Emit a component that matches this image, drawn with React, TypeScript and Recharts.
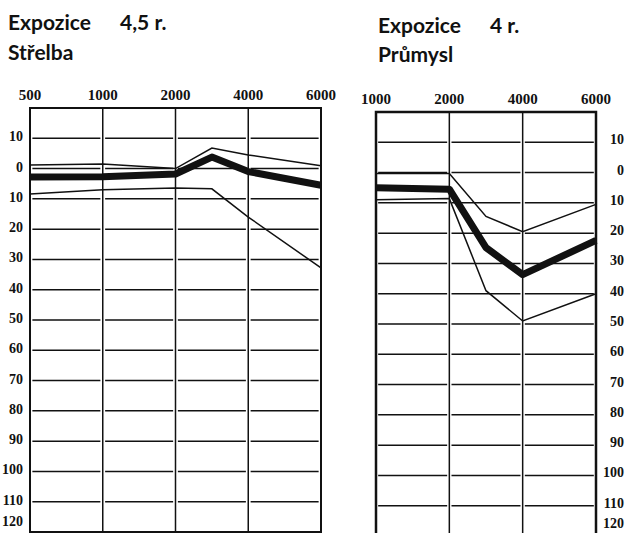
import React from 'react';
import { LineChart, Line, XAxis, YAxis, CartesianGrid, ReferenceArea } from 'recharts';

// frequency ticks printed on top of each audiogram (equally spaced columns)
const leftTicks = [500, 1000, 2000, 4000, 6000];
const rightTicks = [1000, 2000, 4000, 6000];

// hearing level ticks, dB (top of the grid = -20)
const dbTicks = [-20, -10, 0, 10, 20, 30, 40, 50, 60, 70, 80, 90, 100, 110, 120];

// Střelba, 4,5 r.
const leftFreqs = [500, 1000, 2000, 3000, 4000, 6000];
const leftUpper = [-1.2, -1.5, 0, -6.8, -4.5, -0.9];
const leftMean = [2.8, 2.7, 1.8, -3.8, 1, 5.5];
const leftLower = [8.4, 7, 6.4, 6.7, 16, 32.8];

// Průmysl, 4 r.
const rightFreqs = [1000, 2000, 3000, 4000, 6000];
const rightUpper = [0.3, 0.3, 14.5, 19.5, 10.5];
const rightMean = [5, 5.5, 24.8, 33.7, 22.4];
const rightLower = [9, 8.6, 39, 49, 40];

const INK = '#111';

// position of a frequency between the printed (equally spaced) columns
const freqPos = (ticks: number[], f: number) => {
  for (let i = 0; i < ticks.length - 1; i++) {
    if (f >= ticks[i] && f <= ticks[i + 1]) {
      return i + (f - ticks[i]) / (ticks[i + 1] - ticks[i]);
    }
  }
  return ticks.length - 1;
};

const buildData = (ticks: number[], freqs: number[], upper: number[], mean: number[], lower: number[]) =>
  freqs.map((f, i) => ({ pos: freqPos(ticks, f), upper: upper[i], mean: mean[i], lower: lower[i] }));

const leftData = buildData(leftTicks, leftFreqs, leftUpper, leftMean, leftLower);
const rightData = buildData(rightTicks, rightFreqs, rightUpper, rightMean, rightLower);

const tickFont = { fontFamily: '"Liberation Serif", serif', fontWeight: 700 };

const LeftDbTick = (props: any) => {
  const { x, y, payload } = props;
  if (payload.value === -20) return null;
  return (
    <text x={x + 1} y={Math.min(y + 3, 526)} textAnchor="end" fontSize={14} fill={INK} style={tickFont}>
      {Math.abs(payload.value)}
    </text>
  );
};

const RightDbTick = (props: any) => {
  const { y, payload } = props;
  if (payload.value === -20) return null;
  return (
    <text x={284} y={Math.min(y + 2, 528)} textAnchor="end" fontSize={14} fill={INK} style={tickFont}>
      {Math.abs(payload.value)}
    </text>
  );
};

const series = (data: any[]) => [
  <Line key="u" data={data} type="linear" dataKey="upper" stroke={INK} strokeWidth={1.5} dot={false} isAnimationActive={false} />,
  <Line key="l" data={data} type="linear" dataKey="lower" stroke={INK} strokeWidth={1.5} dot={false} isAnimationActive={false} />,
  <Line key="m" data={data} type="linear" dataKey="mean" stroke={INK} strokeWidth={7} strokeLinejoin="round" dot={false} isAnimationActive={false} />,
];

const titleStyle: React.CSSProperties = {
  position: 'absolute',
  fontFamily: 'Lato, sans-serif',
  fontWeight: 700,
  fontSize: 21,
  color: INK,
  whiteSpace: 'nowrap',
};

export default function App() {
  const lastL = leftTicks.length - 1;
  const lastR = rightTicks.length - 1;
  return (
    <div style={{ position: 'absolute', left: 0, top: 0, width: 625, height: 533, overflow: 'hidden', background: '#fff' }}>
      <div style={{ ...titleStyle, left: 8, top: 7, lineHeight: '30px' }}>
        <div><span style={{ display: 'inline-block', width: 112 }}>Expozice</span>4,5 r.</div>
        <div>Střelba</div>
      </div>
      <div style={{ ...titleStyle, left: 378, top: 10, lineHeight: '29px' }}>
        <div><span style={{ display: 'inline-block', width: 112 }}>Expozice</span>4 r.</div>
        <div>Průmysl</div>
      </div>

      <div style={{ position: 'absolute', left: 0, top: 0 }}>
        <LineChart width={340} height={533} data={leftData} margin={{ top: 88, right: 19, bottom: 1, left: 0 }}>
          <CartesianGrid horizontal={false} stroke={INK} strokeWidth={1.5} />
          <CartesianGrid vertical={false} stroke={INK} strokeWidth={1.5} strokeDasharray="68 4.75" strokeDashoffset={70.375} />
          <XAxis
            dataKey="pos"
            type="number"
            orientation="top"
            domain={[0, lastL]}
            ticks={leftTicks.map((_, i) => i)}
            tickFormatter={(i: number) => String(leftTicks[i])}
            axisLine={false}
            tickLine={false}
            height={20}
            tick={{ fill: INK, fontSize: 15, ...tickFont }}
            interval={0}
          />
          <YAxis
            type="number"
            reversed
            domain={[-20, 120]}
            ticks={dbTicks}
            interval={0}
            width={30}
            axisLine={false}
            tickLine={false}
            tick={<LeftDbTick />}
          />
          <ReferenceArea x1={0} x2={lastL} y1={-20} y2={120} fill="none" stroke={INK} strokeWidth={2} />
          {series(leftData)}
        </LineChart>
      </div>

      <div style={{ position: 'absolute', left: 340, top: 0 }}>
        <LineChart width={285} height={540} data={rightData} margin={{ top: 92, right: 0, bottom: 4, left: 36 }}>
          <CartesianGrid horizontal={false} stroke={INK} strokeWidth={1.5} />
          <CartesianGrid vertical={false} stroke={INK} strokeWidth={1.5} strokeDasharray="69 4.33" strokeDashoffset={71.17} />
          <XAxis
            dataKey="pos"
            type="number"
            orientation="top"
            domain={[0, lastR]}
            ticks={rightTicks.map((_, i) => i)}
            tickFormatter={(i: number) => String(rightTicks[i])}
            axisLine={false}
            tickLine={false}
            height={20}
            tick={{ fill: INK, fontSize: 15, ...tickFont }}
            interval={0}
          />
          <YAxis
            type="number"
            orientation="right"
            reversed
            domain={[-20, 120]}
            ticks={dbTicks}
            interval={0}
            width={29}
            axisLine={false}
            tickLine={false}
            tick={<RightDbTick />}
          />
          <ReferenceArea x1={0} x2={lastR} y1={-20} y2={120} fill="none" stroke={INK} strokeWidth={2.5} />
          {series(rightData)}
        </LineChart>
      </div>
    </div>
  );
}
